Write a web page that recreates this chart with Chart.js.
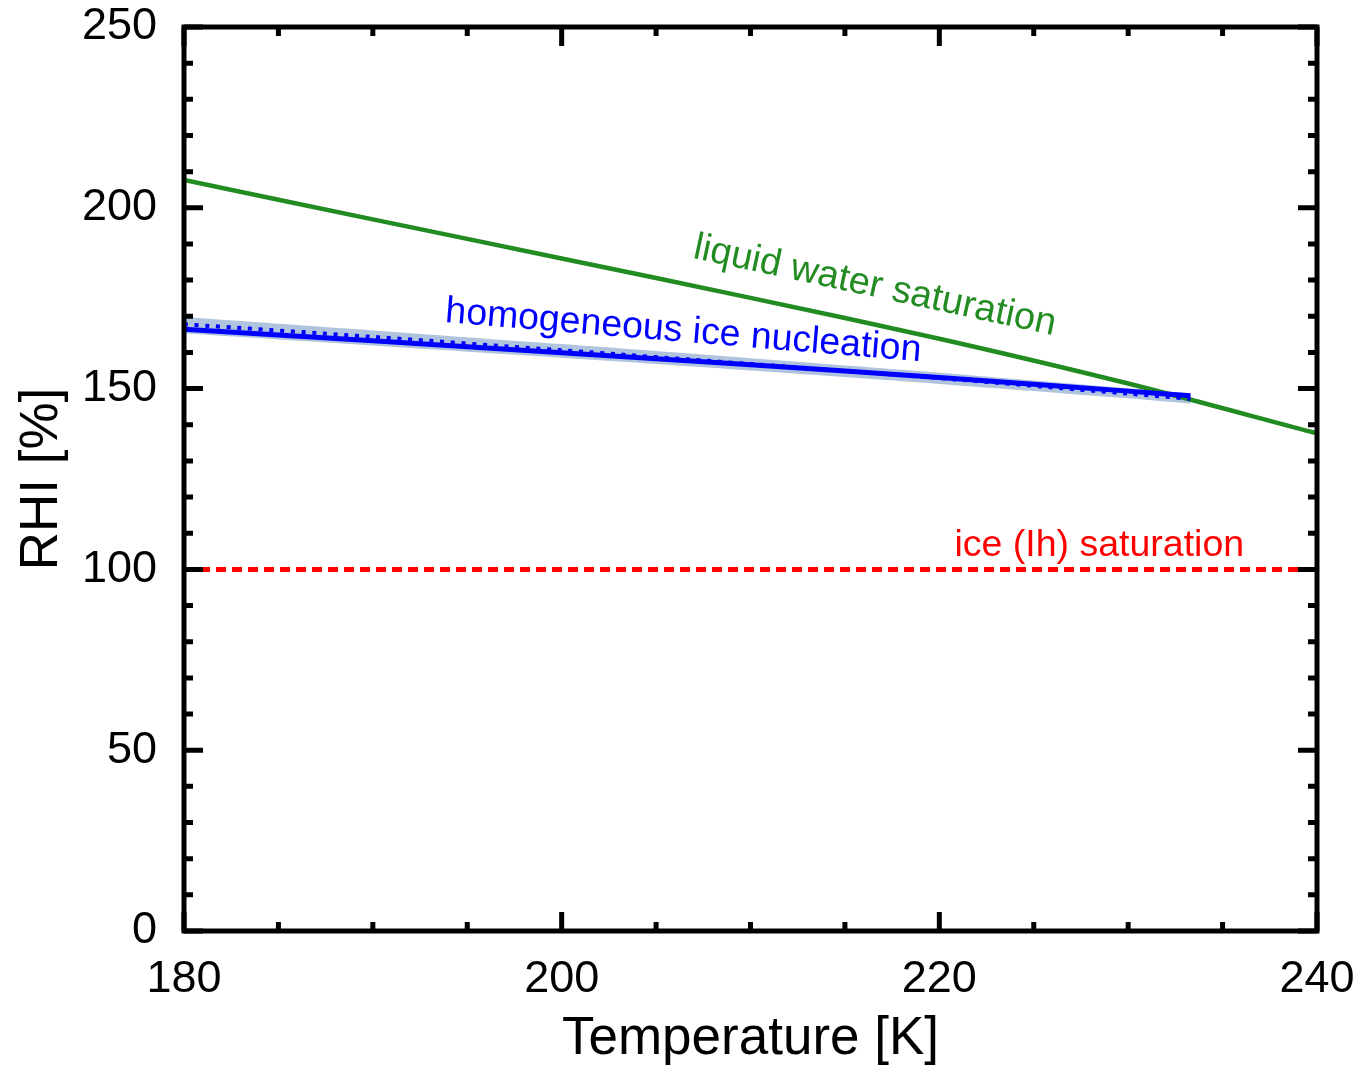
<!DOCTYPE html>
<html>
<head>
<meta charset="utf-8">
<script src="https://cdn.jsdelivr.net/npm/chart.js@4.4.1/dist/chart.umd.min.js"></script>
<style>
  html, body { margin: 0; padding: 0; background: #fff; }
  #wrap { width: 1362px; height: 1071px; }
</style>
</head>
<body>
<div id="wrap"><canvas id="rhi" width="1362" height="1071"></canvas></div>
<script>
// temperature grid (K) and RHI (%)
const liquidTemp = [180, 190, 200, 210, 220, 230, 240]
const liquidRhi = [207.7, 196.8, 186.0, 175.1, 163.8, 151.4, 137.6]

const homTemp = [180, 190, 200, 210, 220, 230, 233.3]
const homRhi = [166.4, 163.2, 159.9, 156.6, 153.1, 149.3, 148.0]
const homDotRhi = [167.8, 164.3, 160.6, 156.8, 152.9, 148.6, 147.2]
const homUpper = [169.8, 166.1, 162.3, 158.4, 154.4, 150.1, 148.7]
const homLower = [165.3, 161.9, 158.5, 155.0, 151.3, 147.3, 145.8]

const iceTemp = [180, 240]
const iceRhi = [100, 100]

const xTicks = [180, 200, 220, 240]
const xMinor = [185, 190, 195, 205, 210, 215, 225, 230, 235]
const yTicks = [0, 50, 100, 150, 200, 250]
const yMinor = [10, 20, 30, 40, 60, 70, 80, 90, 110, 120, 130, 140, 160, 170, 180, 190, 210, 220, 230, 240]

const FONT = "'Liberation Sans', Arial, Helvetica, sans-serif"
const GREEN = '#228b22'

const pts = (xs, ys) => xs.map((x, i) => ({ x, y: ys[i] }))

// labels placed on the plot: [text, T, RHI, angle (deg), color, font size]
const notes = [
  ['liquid water saturation', 206.9, 186.2, 12.1, GREEN, 38],
  ['homogeneous ice nucleation', 193.8, 168.4, 4.7, '#0000ff', 37.5],
  ['ice (Ih) saturation', 220.8, 103.8, 0, '#ff0000', 37.5],
]

const framePlugin = {
  id: 'frame',
  afterDatasetsDraw(chart) {
    const { ctx, chartArea: a, scales: { x, y } } = chart
    ctx.save()
    ctx.textBaseline = 'alphabetic'
    notes.forEach(([txt, t, v, ang, col, size]) => {
      ctx.save()
      ctx.font = `${size}px ${FONT}`
      ctx.translate(x.getPixelForValue(t), y.getPixelForValue(v))
      ctx.rotate(ang * Math.PI / 180)
      ctx.fillStyle = col
      ctx.fillText(txt, 0, 0)
      ctx.restore()
    })

    ctx.strokeStyle = '#000'
    ctx.lineWidth = 5
    ctx.lineCap = 'butt'
    const tick = (vals, len) => {
      vals.forEach(v => {
        const px = x.getPixelForValue(v)
        ctx.beginPath()
        ctx.moveTo(px, a.bottom); ctx.lineTo(px, a.bottom - len)
        ctx.moveTo(px, a.top); ctx.lineTo(px, a.top + len)
        ctx.stroke()
      })
    }
    const tickY = (vals, len) => {
      vals.forEach(v => {
        const py = y.getPixelForValue(v)
        ctx.beginPath()
        ctx.moveTo(a.left, py); ctx.lineTo(a.left + len, py)
        ctx.moveTo(a.right, py); ctx.lineTo(a.right - len, py)
        ctx.stroke()
      })
    }
    tick(xTicks, 19); tick(xMinor, 9)
    tickY(yTicks, 19); tickY(yMinor, 9)
    ctx.lineJoin = 'miter'
    ctx.strokeRect(a.left, a.top, a.right - a.left, a.bottom - a.top)
    ctx.restore()
  },
}

new Chart(document.getElementById('rhi'), {
  type: 'line',
  data: {
    datasets: [
      { data: pts(homTemp, homUpper), borderWidth: 0, pointRadius: 0, fill: '+1', backgroundColor: '#b0c4de', order: 6, tension: 0.3 },
      { data: pts(homTemp, homLower), borderWidth: 0, pointRadius: 0, fill: false, order: 7, tension: 0.3 },
      { data: pts(homTemp, homRhi), borderColor: '#0000ff', borderWidth: 5, pointRadius: 0, order: 4, tension: 0.3 },
      { data: pts(homTemp, homDotRhi), borderColor: '#0000ff', borderWidth: 4, borderDash: [4, 6.7], pointRadius: 0, order: 3, tension: 0.3 },
      { data: pts(liquidTemp, liquidRhi), borderColor: GREEN, borderWidth: 4.5, pointRadius: 0, order: 5, tension: 0.3 },
      { data: pts(iceTemp, iceRhi), borderColor: '#ff0000', borderWidth: 5, borderDash: [10, 6], pointRadius: 0, order: 1 },
    ],
  },
  options: {
    responsive: false,
    animation: false,
    events: [],
    layout: { padding: { top: 27, right: 45, left: 0, bottom: 0 } },
    plugins: { legend: { display: false }, tooltip: { enabled: false } },
    scales: {
      x: {
        type: 'linear', min: 180, max: 240,
        afterFit: s => { s.height = 140; s.paddingLeft = 0; s.paddingRight = 0 },
        afterBuildTicks: s => { s.ticks = xTicks.map(v => ({ value: v })) },
        grid: { display: false, drawTicks: false },
        border: { display: false },
        ticks: { color: '#000', padding: 22, font: { family: FONT, size: 45 }, maxRotation: 0 },
        title: { display: true, text: 'Temperature [K]', color: '#000', font: { family: FONT, size: 53, lineHeight: 1 }, padding: { top: 0, bottom: 5 } },
      },
      y: {
        type: 'linear', min: 0, max: 250,
        afterFit: s => { s.width = 184; s.paddingTop = 0; s.paddingBottom = 0 },
        afterBuildTicks: s => { s.ticks = yTicks.map(v => ({ value: v })) },
        grid: { display: false, drawTicks: false },
        border: { display: false },
        ticks: { color: '#000', padding: 27, font: { family: FONT, size: 45 } },
        title: { display: true, text: 'RHI [%]', color: '#000', font: { family: FONT, size: 53, lineHeight: 1 }, padding: { top: 16, bottom: 0 } },
      },
    },
  },
  plugins: [framePlugin],
})
</script>
</body>
</html>
